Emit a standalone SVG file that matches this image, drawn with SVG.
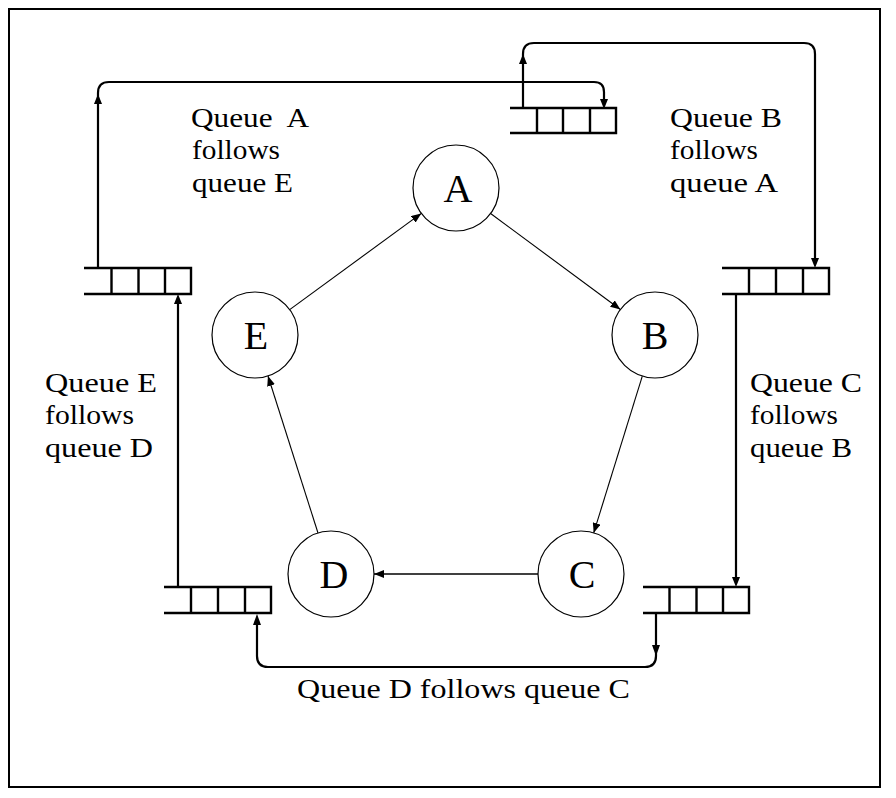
<svg xmlns="http://www.w3.org/2000/svg" width="896" height="798" viewBox="0 0 896 798">
<defs>
<style>
.frame{fill:none;stroke:#000;stroke-width:2}
.q{fill:none;stroke:#000;stroke-width:2.4}
.conn{fill:none;stroke:#000;stroke-width:2.2}
.edge{fill:none;stroke:#000;stroke-width:1.1}
.node circle{fill:#fff;stroke:#000;stroke-width:1.2}
.node text{font-family:"Liberation Serif","DejaVu Serif",serif;font-size:40px;text-anchor:middle}
.lbl{font-family:"Liberation Serif","DejaVu Serif",serif;font-size:27px;fill:#000}
.ah{fill:#000}
</style>
<marker id="tip" viewBox="0 0 10 8" refX="10" refY="4" markerWidth="10" markerHeight="8" markerUnits="userSpaceOnUse" orient="auto">
<path d="M0,0 L10,4 L0,8 z" fill="#000"/>
</marker>
</defs>
<rect class="frame" x="9" y="9" width="871" height="778"/>

<g id="queues">
<g id="queue-A"><path class="q" d="M84,268 H191 V294 H84 M111.5,268 V294 M138.5,268 V294 M165,268 V294"/></g>
<g id="queue-B"><path class="q" d="M722,268 H829 V294 H722 M749,268 V294 M776,268 V294 M803,268 V294"/></g>
<g id="queue-top"><path class="q" d="M510,108 H616 V133 H510 M537,108 V133 M563,108 V133 M590,108 V133"/></g>
<g id="queue-D"><path class="q" d="M164,587 H271 V613 H164 M191,587 V613 M218,587 V613 M245,587 V613"/></g>
<g id="queue-C"><path class="q" d="M643,587 H749 V613 H643 M669.5,587 V613 M696.5,587 V613 M723,587 V613"/></g>
</g>

<g id="connectors">
<path class="conn" d="M98,268 V93 Q98,82 109,82 H594 Q604,82 604,92 V100"/>
<polygon class="ah" points="98,94 94,104 102,104"/>
<polygon class="ah" points="604,109 600,99 608,99"/>
<path class="conn" d="M523,108 V54 Q523,43 534,43 H804 Q815,43 815,54 V260"/>
<polygon class="ah" points="523,54 519,64 527,64"/>
<polygon class="ah" points="815,268 811,258 819,258"/>
<path class="conn" d="M736,294 V578"/>
<polygon class="ah" points="736,587 732,577 740,577"/>
<path class="conn" d="M656,613 V656 Q656,667 645,667 H268 Q257,667 257,656 V622"/>
<polygon class="ah" points="656,656 652,645 660,645"/>
<polygon class="ah" points="257,614 253,625 261,625"/>
<path class="conn" d="M178,587 V302"/>
<polygon class="ah" points="178,294 174,304 182,304"/>

<path class="edge" d="M490.6,213.5 L620.4,309.5" marker-end="url(#tip)"/>
<path class="edge" d="M642.3,376.1 L593.7,532.9" marker-end="url(#tip)"/>
<path class="edge" style="stroke-width:1.6" d="M538,574 L374,574" marker-end="url(#tip)"/>
<path class="edge" d="M318,533 L268,376" marker-end="url(#tip)"/>
<path class="edge" d="M289.7,309.6 L421.3,213.4" marker-end="url(#tip)"/>
</g>

<g id="node-A" class="node"><circle cx="456" cy="188" r="43"/><text x="458" y="202">A</text></g>
<g id="node-B" class="node"><circle cx="655" cy="335" r="43"/><text x="655" y="349">B</text></g>
<g id="node-C" class="node"><circle cx="581" cy="574" r="43"/><text x="582" y="588">C</text></g>
<g id="node-D" class="node"><circle cx="331" cy="574" r="43"/><text x="334" y="588">D</text></g>
<g id="node-E" class="node"><circle cx="255" cy="335" r="43"/><text x="256" y="349">E</text></g>

<g id="labels">
<text class="lbl" x="191" y="127" xml:space="preserve" textLength="118" lengthAdjust="spacingAndGlyphs">Queue  A</text>
<text class="lbl" x="192" y="159" textLength="88" lengthAdjust="spacingAndGlyphs">follows</text>
<text class="lbl" x="192" y="192" textLength="101" lengthAdjust="spacingAndGlyphs">queue E</text>
<text class="lbl" x="670" y="127" textLength="112" lengthAdjust="spacingAndGlyphs">Queue B</text>
<text class="lbl" x="670" y="159" textLength="88" lengthAdjust="spacingAndGlyphs">follows</text>
<text class="lbl" x="670" y="192" textLength="108" lengthAdjust="spacingAndGlyphs">queue A</text>
<text class="lbl" x="45" y="392" textLength="112" lengthAdjust="spacingAndGlyphs">Queue E</text>
<text class="lbl" x="45" y="424" textLength="89" lengthAdjust="spacingAndGlyphs">follows</text>
<text class="lbl" x="45" y="457" textLength="108" lengthAdjust="spacingAndGlyphs">queue D</text>
<text class="lbl" x="750" y="392" textLength="112" lengthAdjust="spacingAndGlyphs">Queue C</text>
<text class="lbl" x="750" y="424" textLength="88" lengthAdjust="spacingAndGlyphs">follows</text>
<text class="lbl" x="750" y="457" textLength="102" lengthAdjust="spacingAndGlyphs">queue B</text>
<text class="lbl" x="297" y="698" textLength="333" lengthAdjust="spacingAndGlyphs">Queue D follows queue C</text>
</g>
</svg>
